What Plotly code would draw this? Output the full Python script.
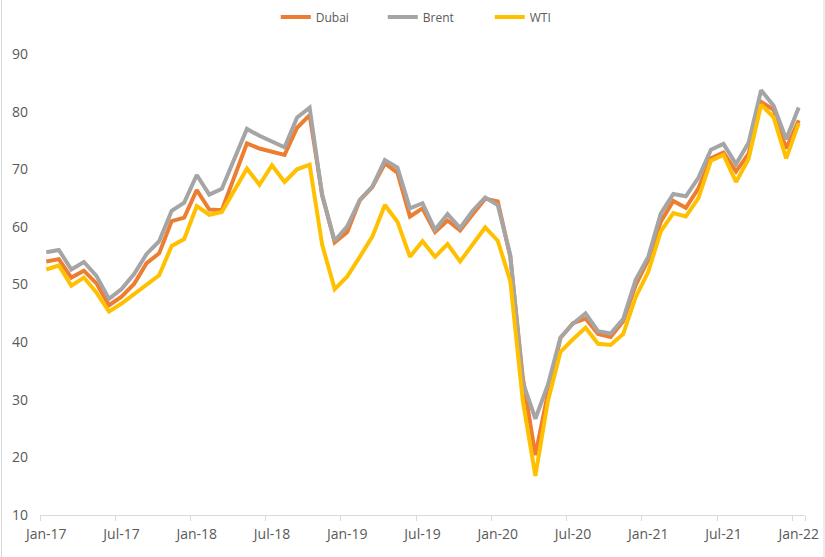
import plotly.graph_objects as go

months = ["Jan-17","Feb-17","Mar-17","Apr-17","May-17","Jun-17","Jul-17","Aug-17","Sep-17","Oct-17","Nov-17","Dec-17",
          "Jan-18","Feb-18","Mar-18","Apr-18","May-18","Jun-18","Jul-18","Aug-18","Sep-18","Oct-18","Nov-18","Dec-18",
          "Jan-19","Feb-19","Mar-19","Apr-19","May-19","Jun-19","Jul-19","Aug-19","Sep-19","Oct-19","Nov-19","Dec-19",
          "Jan-20","Feb-20","Mar-20","Apr-20","May-20","Jun-20","Jul-20","Aug-20","Sep-20","Oct-20","Nov-20","Dec-20",
          "Jan-21","Feb-21","Mar-21","Apr-21","May-21","Jun-21","Jul-21","Aug-21","Sep-21","Oct-21","Nov-21","Dec-21",
          "Jan-22"]

dubai = [54.0, 54.4, 51.2, 52.4, 50.2, 46.4, 47.9, 50.1, 53.7, 55.4, 61.0, 61.6,
         66.4, 63.0, 62.9, 68.6, 74.5, 73.6, 73.1, 72.5, 77.2, 79.4, 65.6, 57.3,
         59.1, 64.6, 66.9, 71.0, 69.4, 61.8, 63.2, 59.1, 61.1, 59.4, 62.2, 64.9,
         64.4, 54.8, 33.8, 20.4, 31.1, 40.7, 43.3, 44.1, 41.4, 40.9, 43.6, 49.9,
         54.3, 60.9, 64.5, 63.3, 66.7, 71.9, 72.9, 69.6, 72.7, 81.7, 80.3, 73.6,
         78.5]

brent = [55.6, 56.0, 52.6, 53.9, 51.5, 47.5, 49.2, 51.8, 55.3, 57.5, 62.8, 64.2,
         69.0, 65.6, 66.6, 71.8, 77.0, 75.8, 74.8, 73.8, 79.0, 80.7, 65.4, 57.6,
         60.1, 64.7, 67.0, 71.6, 70.3, 63.2, 64.1, 59.5, 62.2, 59.8, 62.8, 65.1,
         63.8, 55.1, 33.0, 26.7, 32.6, 40.8, 43.2, 45.0, 41.9, 41.5, 44.0, 50.8,
         54.8, 62.3, 65.7, 65.3, 68.5, 73.4, 74.4, 70.9, 74.6, 83.7, 81.0, 75.2,
         80.7]

wti = [52.6, 53.3, 49.8, 51.2, 48.6, 45.3, 46.7, 48.3, 49.9, 51.6, 56.7, 57.9,
       63.6, 62.1, 62.6, 66.4, 70.1, 67.3, 70.7, 67.8, 70.0, 70.8, 56.9, 49.2,
       51.4, 54.8, 58.3, 63.8, 60.9, 54.8, 57.5, 54.8, 57.0, 54.0, 57.1, 59.9,
       57.6, 50.6, 29.8, 16.8, 29.8, 38.3, 40.5, 42.5, 39.7, 39.5, 41.4, 47.8,
       52.2, 59.2, 62.4, 61.8, 65.0, 71.5, 72.5, 67.8, 71.8, 81.2, 79.0, 71.9,
       78.0]

tick_labels = months[::6]
y_ticks = [10, 20, 30, 40, 50, 60, 70, 80, 90]

series = [("Dubai", dubai, "#ED7D31"), ("Brent", brent, "#A5A5A5"), ("WTI", wti, "#FFC000")]

fig = go.Figure()
for name, vals, color in series:
    fig.add_trace(go.Scatter(x=months, y=vals, name=name, mode="lines",
                             line=dict(color=color, width=4, shape="linear")))

fig.update_layout(
    width=825, height=557,
    margin=dict(l=40, r=20, t=54, b=42, autoexpand=False),
    paper_bgcolor="white", plot_bgcolor="white",
    font=dict(family="Open Sans", color="#595959"),
    showlegend=True,
    legend=dict(orientation="h", x=0.518, y=1 - 17/557, xref="paper", yref="container",
                xanchor="center", yanchor="middle",
                font=dict(size=12, color="#595959"), entrywidth=62, entrywidthmode="pixels",
                bgcolor="rgba(0,0,0,0)"),
    xaxis=dict(type="category", categoryorder="array", categoryarray=months,
               range=[-0.5, len(months) - 0.5],
               tickmode="array", tickvals=tick_labels, ticktext=tick_labels,
               tickson="boundaries", ticks="outside", ticklen=5, tickcolor="#D9D9D9",
               tickangle=0, automargin=False, ticklabelstandoff=6,
               showline=True, linecolor="#D9D9D9", linewidth=1,
               showgrid=False, zeroline=False,
               tickfont=dict(size=14, color="#595959")),
    yaxis=dict(range=[10, 90], tickmode="array", tickvals=y_ticks,
               showgrid=False, zeroline=False, showline=False, ticks="",
               ticklabelstandoff=11, automargin=False,
               tickfont=dict(size=14, color="#595959")),
    shapes=[dict(type="rect", xref="paper", yref="paper",
                 x0=-38.5/765, x1=784/765, y0=-60/461, y1=530/461,
                 line=dict(color="#D9D9D9", width=1), fillcolor="rgba(0,0,0,0)", layer="below")],
)

fig.write_html("out.html", config={"displayModeBar": False},
               post_script="document.body.style.margin='0';document.body.style.overflow='hidden';")
